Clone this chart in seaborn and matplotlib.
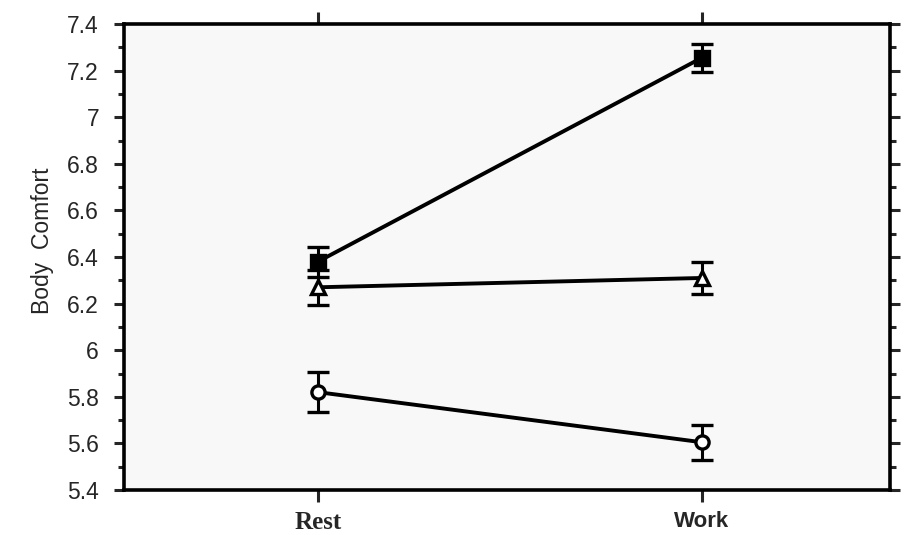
import matplotlib
matplotlib.use('Agg')
import matplotlib.pyplot as plt
import pandas as pd
import seaborn as sns
from matplotlib.ticker import MultipleLocator, FuncFormatter

# data
conditions = ['Rest', 'Work']
groups = ['square', 'triangle', 'circle']
square_mean = [6.38, 7.255]
square_err = [0.065, 0.06]
triangle_mean = [6.27, 6.31]
triangle_err = [0.075, 0.07]
circle_mean = [5.82, 5.605]
circle_err = [0.085, 0.075]
y_ticks = [5.4, 5.6, 5.8, 6.0, 6.2, 6.4, 6.6, 6.8, 7.0, 7.2, 7.4]

means = {'square': square_mean, 'triangle': triangle_mean, 'circle': circle_mean}
errs = {'square': square_err, 'triangle': triangle_err, 'circle': circle_err}
marker_map = {'square': 's', 'triangle': '^', 'circle': 'o'}
face_map = {'square': 'black', 'triangle': 'white', 'circle': 'white'}

rows = []
for g in groups:
    for i, c in enumerate(conditions):
        rows.append({'group': g, 'x': i, 'condition': c, 'value': means[g][i], 'err': errs[g][i]})
df = pd.DataFrame(rows)

sns.set_style('white')
plt.rcParams['font.family'] = ['Liberation Sans', 'DejaVu Sans']

fig = plt.figure(figsize=(9.08, 5.35), dpi=100, facecolor='white')
ax = fig.add_axes([124 / 908, 1 - 490 / 535, (890 - 124) / 908, (490 - 24) / 535])
ax.set_facecolor('#f8f8f8')

# lines first, then error bars, then markers
sns.lineplot(data=df, x='x', y='value', units='group', estimator=None,
             color='black', linewidth=2.8, ax=ax, legend=False)
for g in groups:
    sub = df[df['group'] == g]
    ax.errorbar(sub['x'], sub['value'], yerr=sub['err'], fmt='none',
                ecolor='black', elinewidth=2.2, capsize=8, capthick=2.4, zorder=3)
    ax.plot(sub['x'], sub['value'], linestyle='none', marker=marker_map[g],
            markersize=10.5 if g != 'circle' else 9.5,
            markerfacecolor=face_map[g], markeredgecolor='black',
            markeredgewidth=2.4, zorder=4)

ax.set_xlim(-0.505, 1.49)
ax.set_ylim(5.4, 7.4)
ax.set_xticks([0, 1])
ax.set_xticklabels([])
ax.set_xlabel('')
ax.set_yticks(y_ticks)
ax.yaxis.set_minor_locator(MultipleLocator(0.1))
ax.yaxis.set_major_formatter(FuncFormatter(lambda v, p: '%g' % round(v, 1)))
ax.set_ylabel('Body  Comfort', fontsize=16.5)
ax.yaxis.set_label_coords(-0.092, 0.535)

for s in ax.spines.values():
    s.set_visible(True)
    s.set_color('black')
    s.set_linewidth(2.6)

ax.tick_params(axis='y', which='major', direction='out', length=7, width=2.2,
               left=True, right=True, labelleft=True, labelright=False, pad=11,
               labelsize=16.5)
ax.tick_params(axis='y', which='minor', direction='out', length=4.5, width=2.2,
               left=True, right=True)
ax.tick_params(axis='x', which='major', direction='out', length=8.5, width=2.2,
               bottom=True, top=True)

# category labels: Rest in bold serif, Work in bold sans
ax.text(0, -0.045, 'Rest', transform=ax.get_xaxis_transform(), ha='center', va='top',
        fontsize=18, fontweight='bold', family=['Liberation Serif', 'DejaVu Serif'])
ax.text(1, -0.045, 'Work', transform=ax.get_xaxis_transform(), ha='center', va='top',
        fontsize=16, fontweight='bold', family=['Liberation Sans', 'DejaVu Sans'])

fig.savefig('out.png', dpi=100, facecolor='white')
